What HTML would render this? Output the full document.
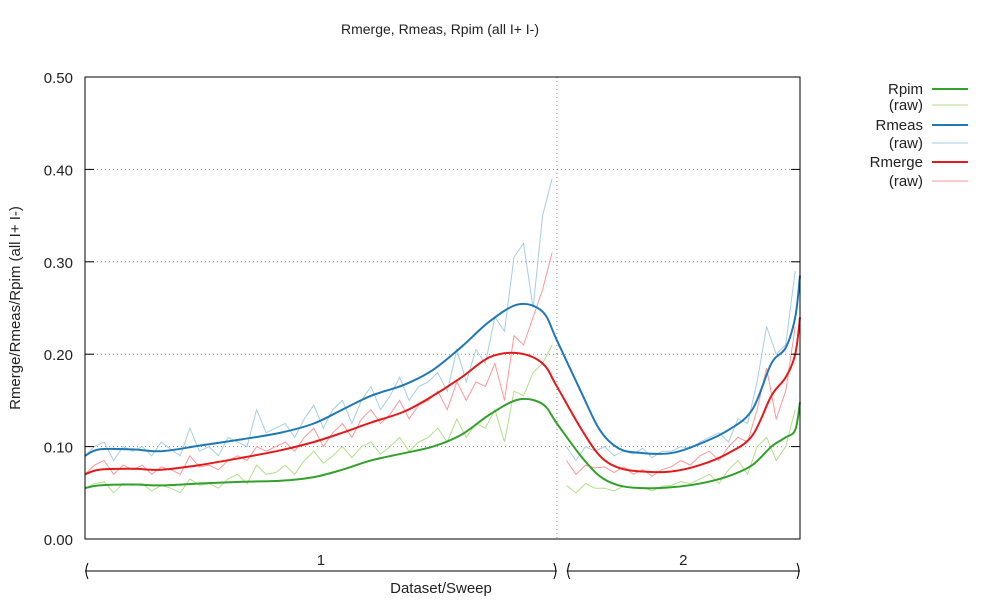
<!DOCTYPE html>
<html><head><meta charset="utf-8"><style>
body{margin:0;background:#fff}
svg text{font-family:"Liberation Sans","DejaVu Sans",sans-serif;fill:#222}
</style></head><body>
<svg id="chart" width="1000" height="600" xmlns="http://www.w3.org/2000/svg">
<rect width="1000" height="600" fill="#fff"/>
<text x="440" y="34" font-size="14" text-anchor="middle">Rmerge, Rmeas, Rpim (all I+  I-)</text>
<text transform="translate(20,308) rotate(-90)" font-size="15" text-anchor="middle">Rmerge/Rmeas/Rpim (all I+  I-)</text>
<text x="441" y="593" font-size="15" text-anchor="middle">Dataset/Sweep</text>
<g id="grid"></g><g id="series"></g>
<rect x="85" y="77" width="715" height="462" fill="none" stroke="#000" stroke-width="1"/>
<g id="axes"></g><g id="legend"></g>
</svg>
<script>
const smoothX=[0,3,10,16,24,33,41,48,54,60,67,73,79,85,91,96,99,104,108,112,117,123,129,135,140,144,147,149,150];
const rmeasSmooth=[0.090,0.097,0.097,0.095,0.101,0.108,0.115,0.125,0.140,0.155,0.167,0.183,0.208,0.236,0.254,0.246,0.215,0.160,0.118,0.098,0.093,0.093,0.103,0.118,0.140,0.190,0.207,0.24,0.285];
const rmergeSmooth=[0.070,0.075,0.076,0.075,0.080,0.088,0.096,0.105,0.115,0.126,0.138,0.155,0.175,0.197,0.201,0.190,0.165,0.120,0.090,0.077,0.073,0.073,0.080,0.093,0.112,0.155,0.175,0.20,0.240];
const rpimSmooth=[0.055,0.058,0.059,0.058,0.060,0.062,0.063,0.067,0.075,0.085,0.093,0.100,0.113,0.135,0.151,0.146,0.125,0.090,0.068,0.058,0.055,0.056,0.060,0.068,0.080,0.100,0.110,0.118,0.148];
const rmeasRaw1=[.09,.10,.105,.085,.10,.095,.10,.09,.105,.097,.09,.12,.095,.10,.09,.11,.105,.10,.14,.115,.12,.125,.11,.13,.145,.12,.14,.15,.125,.15,.165,.14,.155,.175,.15,.165,.17,.18,.16,.205,.17,.205,.19,.24,.225,.305,.32,.25,.35,.39];
const rmergeRaw1=[.07,.08,.085,.07,.08,.075,.08,.07,.078,.075,.07,.09,.078,.08,.075,.085,.09,.085,.10,.095,.10,.105,.095,.11,.12,.10,.115,.125,.11,.13,.14,.125,.135,.15,.13,.145,.15,.16,.14,.17,.15,.17,.165,.19,.15,.22,.21,.24,.27,.31];
const rpimRaw1=[.055,.06,.062,.05,.06,.058,.06,.052,.058,.055,.05,.065,.058,.06,.055,.065,.07,.06,.08,.07,.072,.08,.07,.085,.095,.082,.09,.1,.088,.1,.105,.092,.1,.11,.095,.105,.11,.12,.105,.13,.11,.125,.12,.14,.105,.16,.155,.18,.19,.21];
const rmeasRaw2=[.10,.085,.10,.095,.10,.09,.095,.092,.098,.088,.095,.095,.10,.098,.105,.11,.115,.105,.13,.125,.17,.23,.20,.21,.29];
const rmergeRaw2=[.085,.07,.08,.077,.078,.072,.078,.07,.075,.068,.075,.078,.085,.08,.09,.095,.085,.10,.11,.105,.14,.185,.13,.16,.23];
const rpimRaw2=[.058,.05,.06,.055,.055,.052,.057,.055,.056,.052,.057,.058,.062,.06,.065,.07,.06,.075,.085,.07,.10,.11,.085,.10,.14];
const yTicks=[0,0.1,0.2,0.3,0.4,0.5];
const yTickLabels=["0.00","0.10","0.20","0.30","0.40","0.50"];
const datasetLabels=["1","2"];
const datasetStart=[0,100];
const datasetEnd=[99,150];

const NS="http://www.w3.org/2000/svg";
const X=b=>85+b*715/150, Y=v=>539-v*924;
function mk(t,a,p){const e=document.createElementNS(NS,t);for(const k in a)e.setAttribute(k,a[k]);p.appendChild(e);return e;}
const grid=document.getElementById('grid'),axes=document.getElementById('axes'),ser=document.getElementById('series'),leg=document.getElementById('legend');
yTicks.forEach((v,i)=>{
  if(v>0&&v<0.5){const g=mk('line',{x1:85,x2:800,y1:Y(v),y2:Y(v),stroke:'#888','stroke-dasharray':'1,3'},grid);
  
  }
  const t1=mk('line',{x1:85,x2:94,y1:Y(v),y2:Y(v),stroke:'#000'},axes);
  
  
  const t2=mk('line',{x1:791,x2:800,y1:Y(v),y2:Y(v),stroke:'#000'},axes);
  
  
  const tx=mk('text',{x:73,y:Y(v)+6,'font-size':15,'text-anchor':'end'},axes);tx.textContent=yTickLabels[i];
  
  
});
const dv=mk('line',{x1:X(99),x2:X(99),y1:77,y2:539,stroke:'#888','stroke-dasharray':'1,3'},grid);


datasetLabels.forEach((l,i)=>{
  const x0=X(datasetStart[i])+(i?5:0),x1=X(datasetEnd[i]);
  const g=mk('g',{},axes);
  
  
  mk('line',{x1:x0,x2:x1,y1:571,y2:571,stroke:'#000'},g);
  mk('path',{d:`M${x0+3},563 Q${x0-1},571 ${x0+3},579`,fill:'none',stroke:'#000'},g);
  mk('path',{d:`M${x1-3},563 Q${x1+1},571 ${x1-3},579`,fill:'none',stroke:'#000'},g);
  const t=mk('text',{x:(x0+x1)/2,y:565,'font-size':15,'text-anchor':'middle'},axes);t.textContent=l;
  
  
});
function rawPath(vals,start){return vals.map((v,i)=>(i?'L':'M')+X(start+2*i).toFixed(1)+','+Y(v).toFixed(1)).join('');}
function smoothPath(xs,ys){const p=xs.map((x,i)=>[X(x),Y(ys[i])]);let d='M'+p[0];
  for(let i=0;i<p.length-1;i++){const a=p[Math.max(i-1,0)],b=p[i],c=p[i+1],e=p[Math.min(i+2,p.length-1)];
   d+=`C${b[0]+(c[0]-a[0])/6},${b[1]+(c[1]-a[1])/6} ${c[0]-(e[0]-b[0])/6},${c[1]-(e[1]-b[1])/6} ${c[0]},${c[1]}`;}return d;}
const defs=[
 ['rmeas',rmeasRaw1,rmeasRaw2,rmeasSmooth,'#a6cee3','#1f78b4'],
 ['rmerge',rmergeRaw1,rmergeRaw2,rmergeSmooth,'#fb9a99','#e31a1c'],
 ['rpim',rpimRaw1,rpimRaw2,rpimSmooth,'#b2df8a','#33a02c']];
defs.forEach(([n,r1,r2,s,lc,dc])=>{
  const a=mk('path',{d:rawPath(r1,0)+rawPath(r2,101),fill:'none',stroke:lc,'stroke-width':1},ser);
  
  
});
defs.forEach(([n,r1,r2,s,lc,dc])=>{
  const b=mk('path',{d:smoothPath(smoothX,s),fill:'none',stroke:dc,'stroke-width':2},ser);
  
  
});
[['Rpim','#33a02c',2,89],['(raw)','#b2df8a',1,105],['Rmeas','#1f78b4',2,125],['(raw)','#a6cee3',1,143],['Rmerge','#e31a1c',2,162],['(raw)','#fb9a99',1,181]].forEach(([t,c,w,y])=>{
  const g=mk('g',{},leg);
  
  
  const tx=mk('text',{x:923,y:y+5,'font-size':15,'text-anchor':'end'},g);tx.textContent=t;
  mk('line',{x1:932,x2:968,y1:y,y2:y,stroke:c,'stroke-width':w},g);
});
</script>
</body></html>
